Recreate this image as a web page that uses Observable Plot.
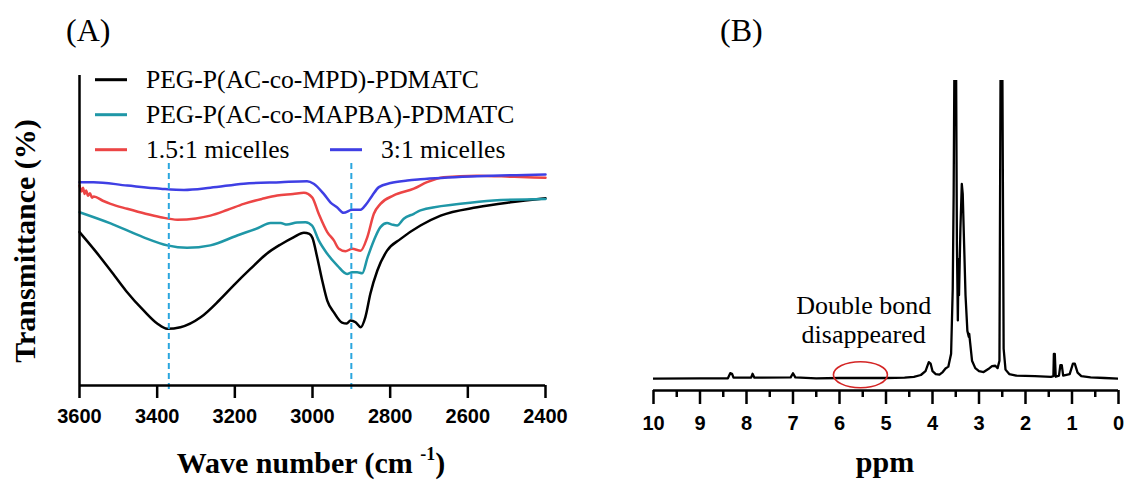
<!DOCTYPE html>
<html><head><meta charset="utf-8">
<script src="https://cdn.jsdelivr.net/npm/d3@7"></script>
<script src="https://cdn.jsdelivr.net/npm/@observablehq/plot@0.6"></script>
<style>
body{margin:0;background:#fff;}
#wrap{position:relative;width:1131px;height:482px;overflow:hidden;font-family:"Liberation Serif","Times New Roman",serif;color:#000;}
.abs{position:absolute;white-space:nowrap;line-height:1;}
.c{transform:translate(-50%,-50%);}
.leg{position:absolute;white-space:nowrap;display:flex;align-items:center;font-size:25.6px;line-height:1;transform:translateY(-50%);}
.leg span.sw{display:inline-block;width:32px;height:3px;margin-right:19px;}
#panelA,#panelB{position:absolute;top:0;}
#panelA{left:0;} #panelB{left:600px;}
</style></head><body><div id="wrap"><div id="panelA"></div><div id="panelB"></div></div>
<script>
// ---------- Panel A: FTIR (wavenumber cm-1, transmittance a.u.) ----------
const seriesNames = ["PEG-P(AC-co-MPD)-PDMATC", "PEG-P(AC-co-MAPBA)-PDMATC", "1.5:1 micelles", "3:1 micelles"];
const seriesColors = ["#000000", "#1f97a7", "#ec4545", "#3f3fe4"];

const ftirMPD = [[3600,49.5],[3560,43.5],[3520,37.1],[3480,30.5],[3435,24.2],[3400,20.0],[3374,18.3],[3340,18.8],[3288,22.0],[3240,27.5],[3203,32.3],[3160,37.6],[3117,42.6],[3082,45.5],[3049,47.8],[3022,49.3],[3008,48.9],[3000,47.6],[2988,41.4],[2975,33.9],[2962,27.4],[2945,23.6],[2924,20.3],[2912,20.0],[2902,21.0],[2889,20.4],[2876,18.8],[2864,22.0],[2851,29.6],[2833,37.1],[2808,43.5],[2773,47.3],[2722,51.6],[2670,54.8],[2576,57.5],[2490,59.1],[2400,60.4]];
const ftirMAPBA = [[3600,55.9],[3520,52.3],[3435,47.8],[3374,45.2],[3323,44.4],[3263,45.2],[3194,48.4],[3140,50.8],[3108,52.4],[3082,52.4],[3066,51.9],[3040,52.6],[3018,52.7],[3001,51.6],[2984,46.8],[2962,42.5],[2936,38.7],[2911,36.0],[2898,36.5],[2885,36.5],[2872,36.2],[2858,41.4],[2842,46.8],[2825,51.1],[2808,52.4],[2795,51.9],[2782,51.6],[2765,53.8],[2739,55.4],[2722,56.5],[2619,58.6],[2534,59.7],[2400,60.2]];
const ftirMic15 = [[3600,64.5],[3595,62.6],[3591,63.8],[3587,61.8],[3583,62.9],[3578,61.2],[3573,62.0],[3568,60.6],[3563,61.0],[3540,59.6],[3520,58.6],[3477,57.0],[3430,55.4],[3391,54.3],[3348,53.5],[3300,53.9],[3263,54.8],[3220,56.6],[3177,58.6],[3130,60.2],[3091,61.3],[3050,61.8],[3022,62.2],[3001,60.7],[2984,55.4],[2962,49.5],[2945,46.8],[2932,44.1],[2915,43.3],[2898,44.1],[2876,43.5],[2859,47.8],[2842,55.4],[2825,58.6],[2791,61.3],[2739,63.5],[2705,65.6],[2662,67.2],[2576,67.7],[2480,67.3],[2400,67.0]];
const ftirMic3 = [[3600,65.6],[3564,65.6],[3477,64.5],[3391,63.5],[3331,63.1],[3263,63.8],[3177,65.1],[3082,65.6],[3014,65.9],[2997,65.1],[2971,61.8],[2954,59.1],[2937,57.5],[2920,55.7],[2898,56.7],[2876,56.7],[2864,58.1],[2846,61.3],[2829,64.0],[2799,65.3],[2756,66.1],[2722,66.5],[2576,67.5],[2400,68.1]];
const markerWavenumbers = [3370, 2900];
const ticksA = [3600, 3400, 3200, 3000, 2800, 2600, 2400];

// ---------- Panel B: 1H NMR (ppm, intensity a.u.) ----------
const nmrSpectrum = [[10,0],[9.0,0.1],[8.4,0.1],[8.35,1.8],[8.31,1.6],[8.28,0.3],[7.9,0.3],[7.87,1.6],[7.83,0.3],[7.05,0.4],[7.0,1.8],[6.95,0.4],[6.5,0.1],[6.0,0.2],[5.5,0.2],[5.0,0.2],[4.6,0.3],[4.4,0.6],[4.25,1.2],[4.15,2.5],[4.08,5.5],[4.04,5.0],[4.0,2.5],[3.93,1.5],[3.85,1.3],[3.78,2.2],[3.72,3.4],[3.66,4.0],[3.6,8.3],[3.565,30],[3.545,62],[3.52,130],[3.50,130],[3.475,45],[3.455,19.5],[3.44,40],[3.43,28],[3.40,50],[3.37,65.3],[3.35,62],[3.32,45],[3.29,28],[3.25,16],[3.22,14],[3.21,15],[3.19,12],[3.15,6],[3.08,3.5],[3.0,2.5],[2.9,2.2],[2.8,3.2],[2.72,4.2],[2.65,4.3],[2.6,3.5],[2.56,6],[2.53,130],[2.505,130],[2.47,10],[2.43,3],[2.35,1.5],[2.2,1.0],[1.8,0.8],[1.45,0.6],[1.40,0.8],[1.39,8.3],[1.37,8.3],[1.35,0.6],[1.28,1.0],[1.25,4.5],[1.22,4.5],[1.19,1.0],[1.05,1.5],[0.98,5.0],[0.94,5.0],[0.88,2.0],[0.8,0.8],[0.6,0.4],[0.3,0.2],[0,0]];
const majorTicksB = [10, 9, 8, 7, 6, 5, 4, 3, 2, 1, 0];
const minorTicksB = [9.5, 8.5, 7.5, 6.5, 5.5, 4.5, 3.5, 2.5, 1.5, 0.5];
const annotation = [{ppm: 5.48, y: 20, text: "Double bond\ndisappeared"}];
const ellipseCenter = [{ppm: 5.55, y: 1.3}];

// ---------- build ----------
const irRows = [ftirMPD, ftirMAPBA, ftirMic15, ftirMic3].flatMap((s, i) =>
  s.map(([wn, t]) => ({name: seriesNames[i], wn, t})));
const nmrRows = nmrSpectrum.map(([ppm, v]) => ({ppm, v}));

const tickFont = "Liberation Sans, Arial, sans-serif";
const serifFont = "'Liberation Serif', 'Times New Roman', serif";

const plotA = Plot.plot({
  width: 600, height: 482,
  marginLeft: 79, marginRight: 55, marginTop: 75, marginBottom: 97,
  style: {background: "transparent", overflow: "visible"},
  x: {domain: [3600, 2400], label: null},
  y: {domain: [0, 100], axis: null},
  color: {domain: seriesNames, range: seriesColors},
  marks: [
    Plot.line(irRows, {x: "wn", y: "t", z: "name", stroke: "name", strokeWidth: 2.5, curve: "monotone-x"}),
    Plot.ruleX(markerWavenumbers, {y1: 71.6, y2: -1.6, stroke: "#2ba6de", strokeWidth: 2, strokeDasharray: "6,4"}),
    Plot.ruleY([0], {stroke: "#000", strokeWidth: 2.5}),
    Plot.ruleX([3600], {stroke: "#000", strokeWidth: 2.5}),
    Plot.axisX({ticks: ticksA, tickSize: 13, tickPadding: 10, strokeWidth: 2.5, tickFormat: "d",
      fontSize: 20, fontWeight: "bold", fontFamily: tickFont, label: null})
  ]
});
document.getElementById("panelA").appendChild(plotA);

const ellipseSymbol = {
  draw(ctx) {
    const rx = 27, ry = 13, k = 0.5523;
    ctx.moveTo(rx, 0);
    ctx.bezierCurveTo(rx, ry * k, rx * k, ry, 0, ry);
    ctx.bezierCurveTo(-rx * k, ry, -rx, ry * k, -rx, 0);
    ctx.bezierCurveTo(-rx, -ry * k, -rx * k, -ry, 0, -ry);
    ctx.bezierCurveTo(rx * k, -ry, rx, -ry * k, rx, 0);
    ctx.closePath();
  }
};

const plotB = Plot.plot({
  width: 531, height: 482,
  marginLeft: 53, marginRight: 13, marginTop: 80, marginBottom: 92,
  style: {background: "transparent", overflow: "visible"},
  x: {domain: [10, 0], label: null},
  y: {domain: [-4, 100], axis: null},
  marks: [
    Plot.line(nmrRows, {x: "ppm", y: "v", stroke: "#000", strokeWidth: 2.3, clip: true}),
    Plot.ruleY([-4], {stroke: "#000", strokeWidth: 2.5}),
    Plot.axisX({ticks: minorTicksB, tickSize: 7, strokeWidth: 2.5, tickFormat: () => "", label: null}),
    Plot.axisX({ticks: majorTicksB, tickSize: 14, tickPadding: 11, strokeWidth: 2.5, tickFormat: "d",
      fontSize: 20, fontWeight: "bold", fontFamily: tickFont, label: null}),
    Plot.dot(ellipseCenter, {x: "ppm", y: "y", symbol: ellipseSymbol, r: 10, stroke: "#d42525", fill: "none", strokeWidth: 1.6}),
    Plot.text(annotation, {x: "ppm", y: "y", text: "text", fontFamily: serifFont,
      fontSize: 26, lineHeight: 1.15, fill: "#000"})
  ]
});
document.getElementById("panelB").appendChild(plotB);
// make sure the annotation uses the serif face
d3.select(plotB).selectAll("text").filter(function() { return /Double|disappeared/.test(this.textContent); })
  .style("font-family", serifFont);

// ---------- HTML text: panel labels, legend, axis titles ----------
const wrap = document.getElementById("wrap");
function addDiv(html, css, cls = "abs") {
  const d = document.createElement("div");
  d.className = cls; d.innerHTML = html; d.style.cssText = css; wrap.appendChild(d); return d;
}
addDiv("(A)", "left:66px;top:14px;font-size:32px;");
addDiv("(B)", "left:720px;top:14px;font-size:32px;");
addDiv("Wave number (cm <sup style='font-size:18px;vertical-align:13px;line-height:0'>-1</sup>)", "left:311px;top:463px;font-size:30px;font-weight:bold;", "abs c");
addDiv("ppm", "left:885px;top:462px;font-size:30px;font-weight:bold;", "abs c");
addDiv("Transmittance (%)", "left:25px;top:241px;font-size:30px;font-weight:bold;transform:translate(-50%,-50%) rotate(-90deg);");

const legendPos = [[95, 80], [95, 115], [95, 150], [330, 150]];
seriesNames.forEach((n, i) => {
  addDiv(`<span class="sw" style="background:${seriesColors[i]}"></span>${n}`,
    `left:${legendPos[i][0]}px;top:${legendPos[i][1]}px;`, "leg");
});
</script></body></html>
